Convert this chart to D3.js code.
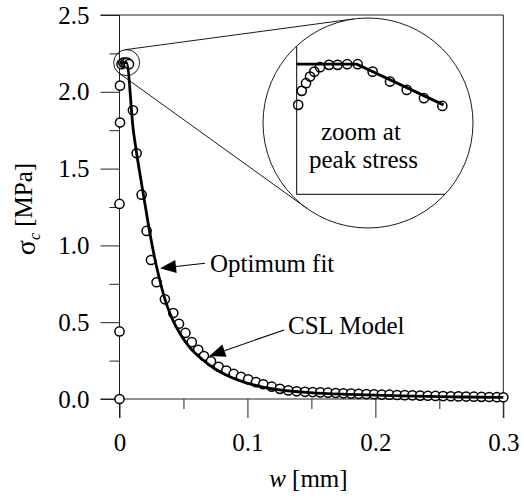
<!DOCTYPE html>
<html>
<head>
<meta charset="utf-8">
<script src="https://cdn.jsdelivr.net/npm/d3@7/dist/d3.min.js"></script>
<style>
  body { margin: 0; background: #fff; }
  svg { display: block; }
  text { font-family: "Liberation Serif", "Times New Roman", serif; fill: #000; }
</style>
</head>
<body>
<div id="vis"></div>
<script>
// CSL model (circles)
const modelW = [0, 0, 0, 0.0004, 0.0004, 0.0016, 0.003, 0.0045, 0.006, 0.0074,
  0.0105, 0.0134, 0.0173, 0.0212, 0.0246, 0.029, 0.0355, 0.042, 0.0465, 0.0515,
  0.0565, 0.0615, 0.066, 0.0715, 0.0775, 0.0835, 0.0893, 0.095, 0.1006, 0.1067,
  0.1124, 0.119, 0.1254, 0.132, 0.1385, 0.145, 0.151, 0.157, 0.163, 0.169,
  0.175, 0.181, 0.187, 0.193, 0.199, 0.205, 0.211, 0.217, 0.223, 0.229,
  0.235, 0.241, 0.247, 0.253, 0.259, 0.265, 0.271, 0.277, 0.283, 0.289, 0.295, 0.300];
const modelS = [0, 0.44, 1.27, 1.80, 2.04, 2.18, 2.19, 2.19, 2.19, 2.18,
  1.88, 1.60, 1.33, 1.094, 0.905, 0.76, 0.649, 0.56, 0.49, 0.43,
  0.37, 0.32, 0.28, 0.245, 0.21, 0.185, 0.163, 0.145, 0.128, 0.11,
  0.096, 0.08, 0.066, 0.056, 0.05, 0.047, 0.045, 0.043, 0.041, 0.039,
  0.037, 0.035, 0.034, 0.032, 0.031, 0.029, 0.028, 0.026, 0.025, 0.024,
  0.022, 0.021, 0.020, 0.019, 0.018, 0.017, 0.016, 0.015, 0.014, 0.013, 0.012, 0.011];

// optimum fit (thick line)
const fitW = [0, 0.0055, 0.0108, 0.0134, 0.0191, 0.0233, 0.0277, 0.0316, 0.0355, 0.040,
  0.047, 0.055, 0.063, 0.073, 0.085, 0.099, 0.112, 0.125, 0.149, 0.18, 0.22, 0.26, 0.30];
const fitS = [2.19, 2.19, 1.75, 1.60, 1.31, 1.10, 0.91, 0.77, 0.65, 0.545,
  0.43, 0.335, 0.27, 0.205, 0.15, 0.105, 0.078, 0.06, 0.042, 0.03, 0.02, 0.014, 0.01];

// inset: zoom at peak stress
const peakW = [0.0001, 0.00034, 0.00063, 0.0009, 0.00119, 0.00157, 0.00218, 0.00276,
  0.00341, 0.00411, 0.00512, 0.00629, 0.00742, 0.00858, 0.00982];
const peakS = [1.818, 1.946, 2.016, 2.077, 2.122, 2.163, 2.184, 2.184,
  2.19, 2.19, 2.122, 2.031, 1.955, 1.879, 1.808];
const peakFitW = [0, 0.00405, 0.0099];
const peakFitS = [2.19, 2.19, 1.818];

const xTicks = [0, 0.1, 0.2, 0.3];
const xMinor = [0.05, 0.15, 0.25];
const yTicks = [0, 0.5, 1.0, 1.5, 2.0, 2.5];
const yMinor = [0.25, 0.75, 1.25, 1.75, 2.25];

const width = 524, height = 498;
const fontSize = 25;

const svg = d3.select("#vis").append("svg")
    .attr("width", width)
    .attr("height", height);

const x = d3.scaleLinear().domain([0, 0.3]).range([119.5, 503.3]);
const y = d3.scaleLinear().domain([0, 2.5]).range([399, 15]);

const major = 19, minor = 10;

// y axis
svg.append("g")
    .attr("transform", `translate(${x(0)},0)`)
    .call(d3.axisLeft(y).tickValues(yTicks).tickSize(major).tickPadding(11)
      .tickFormat((d) => d.toFixed(1)));
svg.append("g")
    .attr("transform", `translate(${x(0)},0)`)
    .call(d3.axisLeft(y).tickValues(yMinor).tickSize(minor).tickFormat(""));

// x axis
svg.append("g")
    .attr("transform", `translate(0,${y(0)})`)
    .call(d3.axisBottom(x).tickValues(xTicks).tickSize(major).tickPadding(15)
      .tickFormat((d) => d === 0 ? "0" : d.toFixed(1)));
svg.append("g")
    .attr("transform", `translate(0,${y(0)})`)
    .call(d3.axisBottom(x).tickValues(xMinor).tickSize(minor).tickFormat(""));

svg.selectAll(".domain").remove();
svg.selectAll(".tick line").attr("stroke", "#222");
svg.selectAll(".tick text")
    .style("font-family", '"Liberation Serif", "Times New Roman", serif')
    .style("font-size", fontSize + "px")
    .attr("fill", "#000");

// frame
const frame = svg.append("g").attr("stroke", "#222").attr("fill", "none");
frame.append("line").attr("x1", x(0)).attr("x2", x(0)).attr("y1", y(2.5)).attr("y2", y(0) + major);
frame.append("line").attr("x1", x(0.3)).attr("x2", x(0.3)).attr("y1", y(2.5)).attr("y2", y(0) + major);
frame.append("line").attr("x1", x(0) - major).attr("x2", x(0.3)).attr("y1", y(2.5)).attr("y2", y(2.5));
frame.append("line").attr("x1", x(0) - major).attr("x2", x(0.3)).attr("y1", y(0)).attr("y2", y(0));

// axis titles
const yt = svg.append("text")
    .attr("transform", `translate(35,${(y(0) + y(2.5)) / 2 + 2}) rotate(-90)`)
    .attr("text-anchor", "middle")
    .style("font-size", fontSize + "px");
yt.append("tspan").attr("font-size", "28px").text("σ");
yt.append("tspan").attr("font-style", "italic").attr("font-size", "16px").attr("dy", "0.3em").text("c");
yt.append("tspan").attr("dy", "-0.3em").text(" [MPa]");

const xt = svg.append("text")
    .attr("x", (x(0) + x(0.3)) / 2 - 3)
    .attr("y", 487)
    .attr("text-anchor", "middle")
    .style("font-size", fontSize + "px");
xt.append("tspan").attr("font-style", "italic").text("w");
xt.append("tspan").text(" [mm]");

// data
const modelData = modelW.map((w, i) => ({ w: w, s: modelS[i] }));
const fitData = fitW.map((w, i) => ({ w: w, s: fitS[i] }));

svg.append("g").selectAll("circle")
    .data(modelData)
    .enter().append("circle")
    .attr("cx", (d) => x(d.w))
    .attr("cy", (d) => y(d.s))
    .attr("r", 4.6)
    .attr("fill", "#fff")
    .attr("stroke", "#000")
    .attr("stroke-width", 1.5);

svg.append("path")
    .datum(fitData)
    .attr("fill", "none")
    .attr("stroke", "#000")
    .attr("stroke-width", 2.8)
    .attr("d", d3.line().x((d) => x(d.w)).y((d) => y(d.s)).curve(d3.curveMonotoneX));

// zoom circles and connecting tangents
const c1 = { x: x(0.0056), y: y(2.19), r: 13 };
const c2 = { x: 368, y: 123, r: 105 };
const dx = c2.x - c1.x, dy = c2.y - c1.y, dist = Math.hypot(dx, dy);
const theta = Math.atan2(dy, dx);
const alpha = Math.asin((c2.r - c1.r) / dist);
[1, -1].forEach((sgn) => {
  const a = theta + sgn * (Math.PI / 2 + alpha);
  svg.append("line")
      .attr("x1", c1.x + c1.r * Math.cos(a)).attr("y1", c1.y + c1.r * Math.sin(a))
      .attr("x2", c2.x + c2.r * Math.cos(a)).attr("y2", c2.y + c2.r * Math.sin(a))
      .attr("stroke", "#000").attr("stroke-width", 0.9);
});
svg.append("circle").attr("cx", c1.x).attr("cy", c1.y).attr("r", c1.r)
    .attr("fill", "none").attr("stroke", "#000").attr("stroke-width", 0.9);
svg.append("circle").attr("cx", c2.x).attr("cy", c2.y).attr("r", c2.r)
    .attr("fill", "#fff").attr("stroke", "#000").attr("stroke-width", 0.9);

// inset
const ix = d3.scaleLinear().domain([0, 0.01]).range([296.7, 445]);
const iy = d3.scaleLinear().domain([1.0, 2.35]).range([194.3, 46.7]);
const inset = svg.append("g");
inset.append("line").attr("x1", ix(0)).attr("x2", ix(0)).attr("y1", iy(2.35)).attr("y2", iy(1.0))
    .attr("stroke", "#000").attr("stroke-width", 1);
inset.append("line").attr("x1", ix(0)).attr("x2", ix(0.01)).attr("y1", iy(1.0)).attr("y2", iy(1.0))
    .attr("stroke", "#000").attr("stroke-width", 1);

inset.append("path")
    .datum(peakFitW.map((w, i) => ({ w: w, s: peakFitS[i] })))
    .attr("fill", "none").attr("stroke", "#000").attr("stroke-width", 2.8)
    .attr("d", d3.line().x((d) => ix(d.w)).y((d) => iy(d.s)));

inset.append("g").selectAll("circle")
    .data(peakW.map((w, i) => ({ w: w, s: peakS[i] })))
    .enter().append("circle")
    .attr("cx", (d) => ix(d.w))
    .attr("cy", (d) => iy(d.s))
    .attr("r", 4.6)
    .attr("fill", "none")
    .attr("stroke", "#000")
    .attr("stroke-width", 1.5);

inset.append("text").attr("x", 321).attr("y", 140).style("font-size", fontSize + "px").text("zoom at");
inset.append("text").attr("x", 309).attr("y", 168).style("font-size", fontSize + "px").text("peak stress");

// annotations with arrows
function arrow(tip, tail, label, lx, ly) {
  const ux = tip[0] - tail[0], uy = tip[1] - tail[1];
  const len = Math.hypot(ux, uy);
  const nx = ux / len, ny = uy / len;
  const hl = 16, hw = 6.5;
  const bx = tip[0] - nx * hl, by = tip[1] - ny * hl;
  svg.append("line").attr("x1", tail[0]).attr("y1", tail[1]).attr("x2", bx).attr("y2", by)
      .attr("stroke", "#000").attr("stroke-width", 1.1);
  svg.append("polygon")
      .attr("points", [[tip[0], tip[1]], [bx - ny * hw, by + nx * hw], [bx + ny * hw, by - nx * hw]].join(" "))
      .attr("fill", "#000");
  svg.append("text").attr("x", lx).attr("y", ly).style("font-size", fontSize + "px").text(label);
}

arrow([x(0.0317), y(0.851)], [205, 263.3], "Optimum fit", 210, 272);
arrow([x(0.0702), y(0.28)], [284, 330], "CSL Model", 288, 334);
</script>
</body>
</html>
